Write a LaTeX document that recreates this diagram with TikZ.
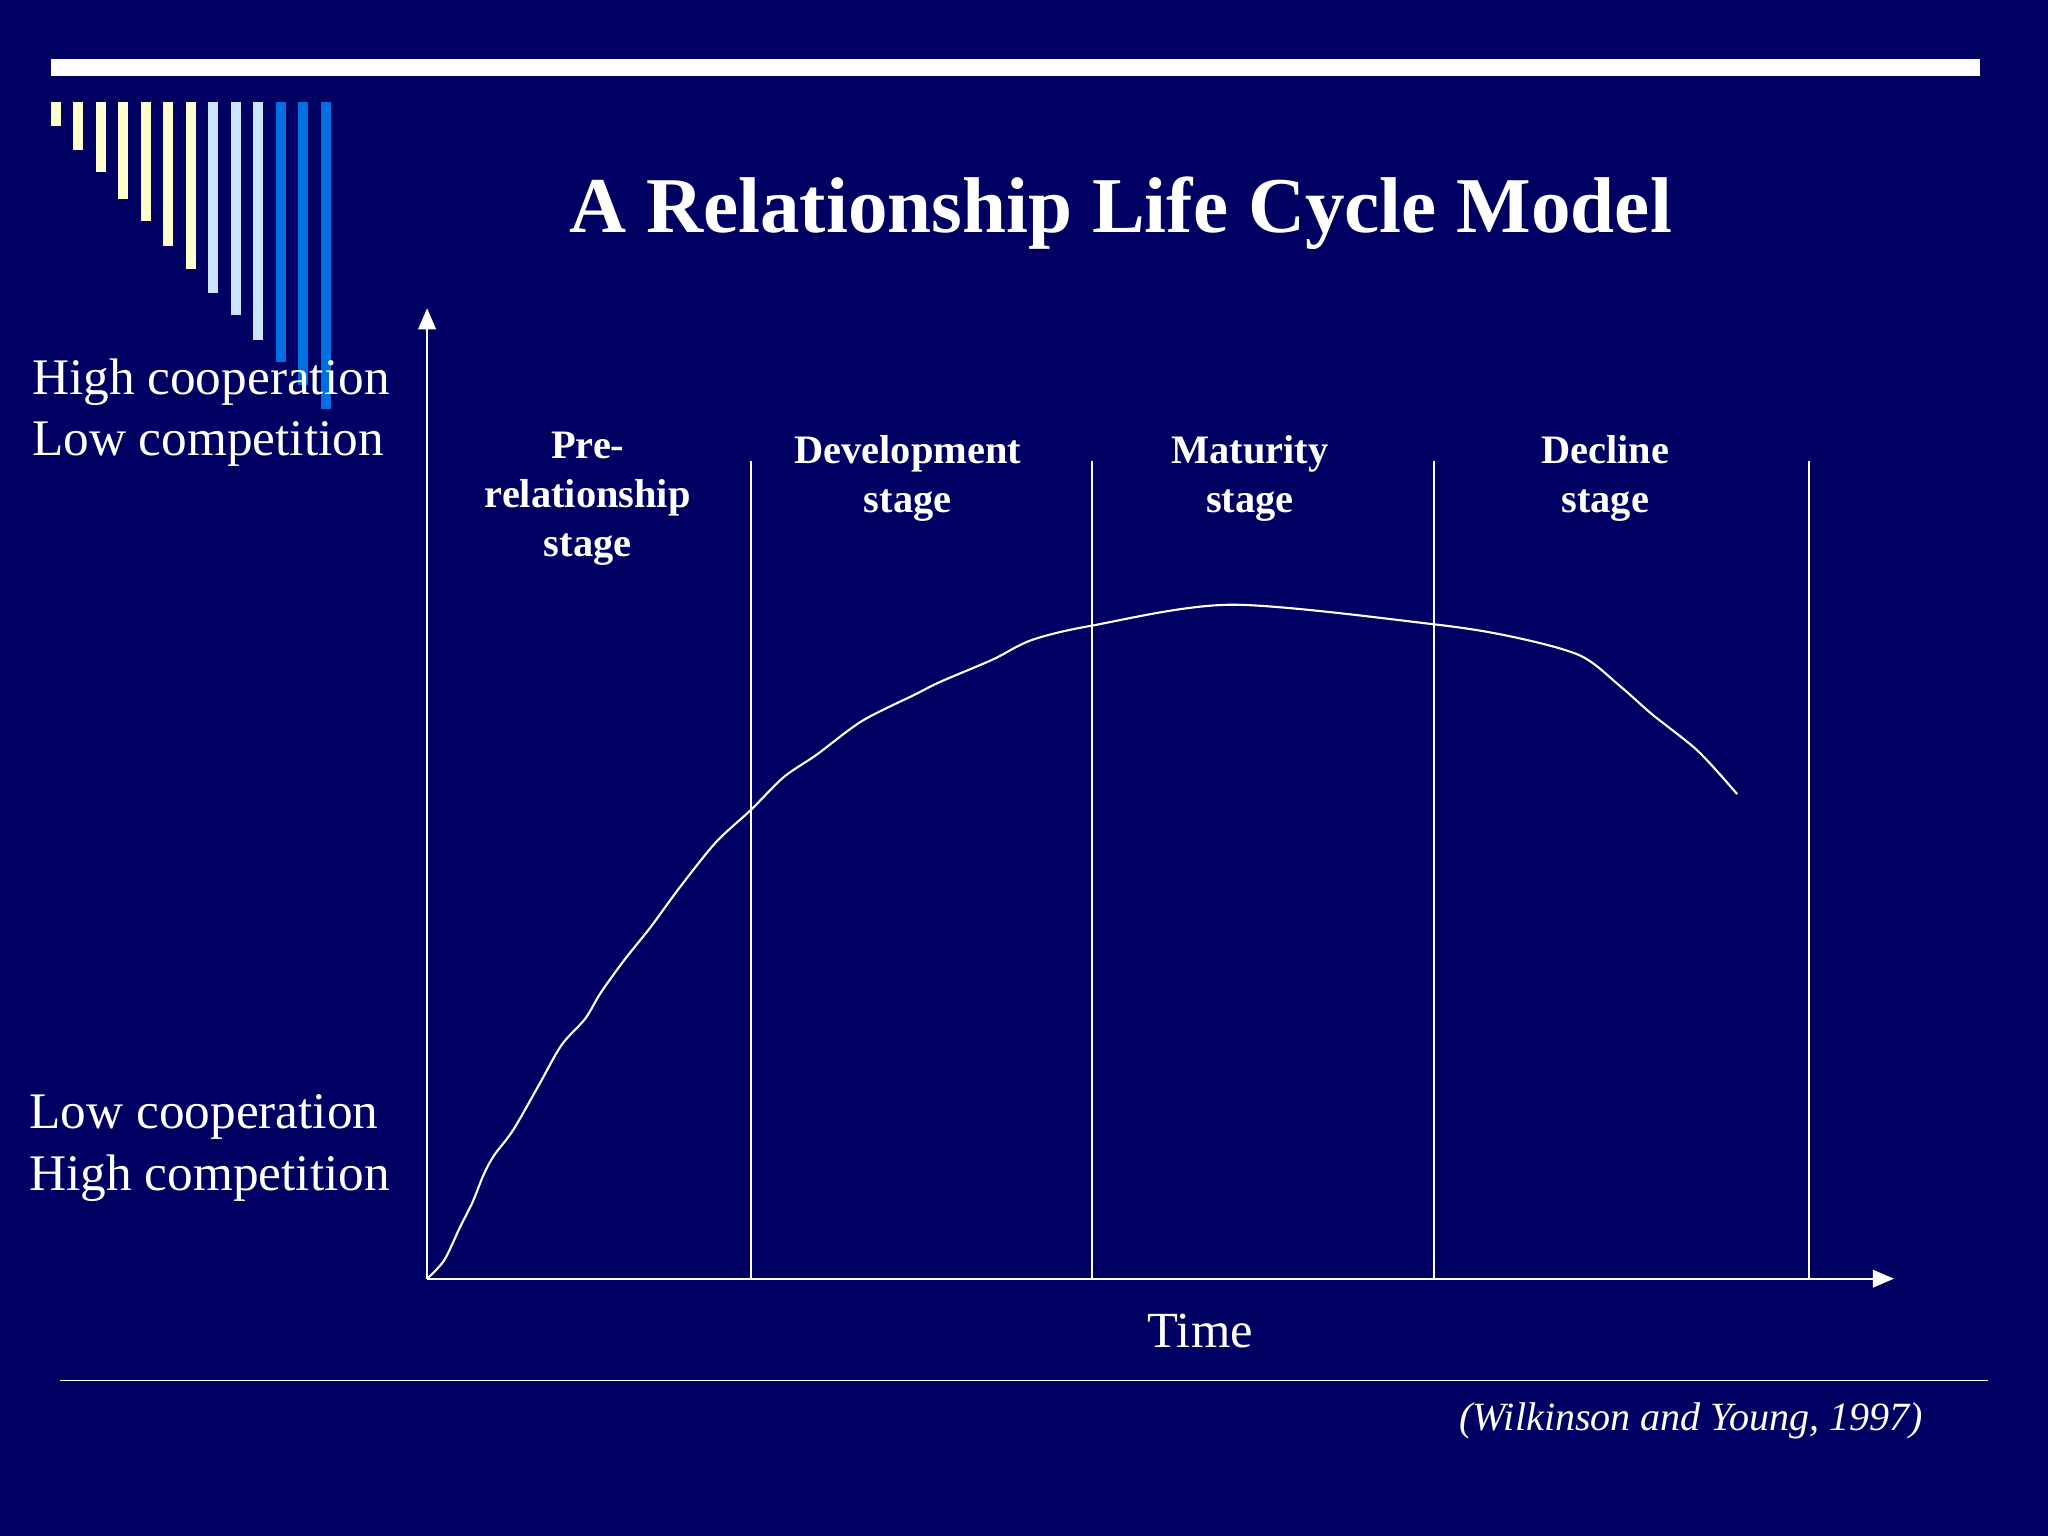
\documentclass[tikz,border=0pt]{standalone}
\usepackage{fontspec}
\setmainfont{Liberation Serif}
\usetikzlibrary{arrows.meta}
\definecolor{bg}{RGB}{0,0,98}
\definecolor{pale}{RGB}{255,255,204}
\definecolor{lblue}{RGB}{204,229,255}
\definecolor{bblue}{RGB}{0,112,224}
\begin{document}
\begin{tikzpicture}[x=0.01306cm,y=-0.01306cm,
  lbl/.style={text=white,font=\fontsize{14.6}{17.6}\selectfont,align=left,anchor=west,inner sep=0},
  stagelbl/.style={text=white,font=\bfseries\fontsize{11.5}{14}\selectfont,align=center,anchor=north,inner sep=0},
  wline/.style={draw=white,line width=0.6pt},
  arr/.style={wline,-{Triangle[length=6pt,width=5pt]}}]
\fill[bg] (0,0) rectangle (1568,1176);
\useasboundingbox (0,0) rectangle (1568,1176);
\fill[white] (39,45) rectangle (1516,58);
% decorative bars
\foreach \i/\b/\c in {0/96.5/pale,1/115/pale,2/132/pale,3/152/pale,4/169/pale,5/188/pale,6/206/pale,7/224/lblue,8/241/lblue,9/260/lblue,10/277/bblue,11/295/bblue,12/313/bblue}{
  \fill[\c] ({39+17.2*\i},78) rectangle ({46.7+17.2*\i},\b);
}
\node[text=white,font=\bfseries\fontsize{22.5}{27}\selectfont] (title) at (858,163) {A Relationship Life Cycle Model};
% axes
\coordinate (o) at (327,979);
\coordinate (ytop) at (327,236);
\coordinate (xend) at (1450,979);
\draw[arr] (o) -- (ytop);
\draw[arr] (o) -- (xend);
\foreach \n/\x in {a/575,b/836,c/1098,d/1385}{
  \coordinate (\n top) at (\x,353);
  \coordinate (\n bot) at (\x,979);
  \draw[wline] (\n top) -- (\n bot);
}
\node[stagelbl] (s1) at (450,330) {Pre-\\relationship\\stage};
\node[stagelbl] (s2) at (695,333) {Development\\stage};
\node[stagelbl] (s3) at (957,333) {Maturity\\stage};
\node[stagelbl] (s4) at (1229,333) {Decline\\stage};
\node[lbl] (hi) at (24,316) {High cooperation\\Low competition};
\node[lbl] (lo) at (22,879) {Low cooperation\\High competition};
\node[text=white,font=\fontsize{14.4}{17}\selectfont] (time) at (919,1019) {Time};
\coordinate (bl) at (46,1057);
\coordinate (br) at (1522,1057);
\draw[white,line width=0.5pt] (bl) -- (br);
\node[text=white,font=\itshape\fontsize{11.4}{14}\selectfont,anchor=east,inner sep=0] (cite) at (1473,1088) {(Wilkinson and Young, 1997)};
% curve
\draw[wline] plot[smooth,tension=0.5] coordinates {(327,979) (340,965) (352,940) (362,920) (370,900) (378,885) (393,865) (413,830) (430,800) (448,780) (460,760) (478,735) (498,710) (520,680) (548,645) (575,620) (600,595) (625,578) (660,552) (700,532) (720,522) (760,505) (790,490) (836,479) (943,463) (1098,478) (1160,488) (1210,502) (1240,525) (1265,547) (1300,575) (1330,608)};
\end{tikzpicture}
\end{document}
